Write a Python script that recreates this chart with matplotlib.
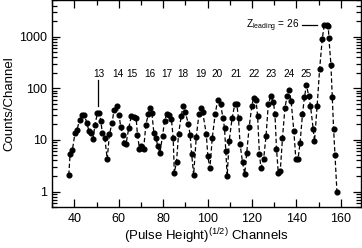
import numpy as np
import matplotlib
matplotlib.use("Agg")
import matplotlib.pyplot as plt
from matplotlib.ticker import LogLocator, MultipleLocator, NullFormatter

plt.rcParams["font.family"] = ["Liberation Sans", "DejaVu Sans"]
plt.rcParams["mathtext.fontset"] = "custom"
plt.rcParams["mathtext.rm"] = "Liberation Sans"
plt.rcParams["mathtext.it"] = "Liberation Sans:italic"

# channel / counts
chan = [37.5, 38.1, 39.1, 40.3, 41.2, 42.4, 43.6, 44.5, 45.7, 46.6, 47.4, 48.4,
        49.3, 50.4, 51.3, 51.9, 52.6, 53.7, 54.8, 55.8, 57.0, 57.9, 59.0, 60.1,
        60.9, 61.8, 62.4, 63.3, 64.5, 65.7, 66.7, 67.8, 68.4, 69.3, 69.9, 70.4,
        71.2, 72.2, 73.3, 74.0, 74.9, 75.8, 76.7, 77.6, 78.5, 79.7, 80.6, 81.6,
        82.7, 83.7, 84.5, 85.0, 86.0, 86.9, 88.1, 89.0, 89.9, 91.3, 92.1, 92.8,
        93.7, 94.9, 96.1, 97.0, 97.8, 99.4, 100.1, 101.0, 102.1, 103.4, 104.5,
        105.8, 106.9, 107.6, 108.2, 108.8, 109.7, 111.0, 112.2, 113.1, 113.9,
        114.6, 115.7, 116.7, 117.6, 118.7, 119.9, 120.7, 121.8, 122.5, 123.3,
        124.0, 125.2, 126.3, 127.3, 128.4, 129.6, 130.3, 131.0, 131.8, 132.7,
        133.7, 134.8, 135.8, 136.7, 137.6, 138.8, 139.7, 140.7, 141.6, 142.7,
        143.6, 144.5, 145.5, 146.3, 147.5, 148.1, 149.3, 150.4, 151.6, 152.5,
        153.7, 154.3, 154.6, 155.5, 156.1, 156.7, 157.3, 158.2]
counts = [2.1, 5.4, 6.3, 13.6, 15.8, 24.7, 31, 30, 21, 14.6, 13.5, 10.4,
          19.8, 33, 33, 23.5, 13.6, 10.9, 4.3, 12.8, 21.6, 38.7, 45, 31,
          17.5, 12.6, 8.8, 8.5, 17, 29.5, 28, 27, 12.7, 6.8, 7.5, 7.0,
          6.7, 19.8, 31.5, 42, 33, 13.6, 11, 7.5, 5.6, 11.9, 22.9, 32,
          30, 25, 10.9, 2.3, 3.8, 12.8, 28.7, 45.6, 35, 20.6, 12.6, 5.4,
          2.1, 11.6, 31.5, 42, 34, 12.8, 4.8, 2.8, 11, 31.5, 58.8,
          49, 27, 17, 6, 2.0, 9.5, 26, 48.5, 50.6, 26,
          8.3, 3.7, 2.2, 5.6, 17.8, 45.6, 65, 58.8, 28.4, 5.4,
          2.9, 4.2, 12, 48.5, 70, 54.5, 31.8, 6.8, 2.3, 2.5,
          11, 41.6, 72, 92, 56, 14.9, 4.3, 4.25, 8.7, 31.5,
          68, 115, 71, 46, 16.5, 9.4, 46, 232, 900, 1690,
          1690, 1620, 920, 286, 68, 16.5, 5.2, 1.0]

z_labels = ["13", "14", "15", "16", "17", "18", "19", "20", "21", "22", "23", "24", "25"]
z_pos = [51.0, 59.7, 66.0, 74.2, 81.6, 88.8, 97.0, 104.2, 112.7, 120.9, 128.7, 136.7, 144.3]

fig = plt.figure(figsize=(3.62, 2.48), dpi=100)
ax = fig.add_axes([0.144, 0.165, 0.853, 0.833])

ax.plot(chan, counts, "k--", lw=0.9, dashes=(3.5, 2))
ax.plot(chan, counts, "o", color="k", ms=3.4, mec="k")

ax.set_yscale("log")
ax.set_xlim(30, 169)
ax.set_ylim(0.5, 5000)
ax.set_xticks([40, 60, 80, 100, 120, 140, 160])
ax.xaxis.set_minor_locator(MultipleLocator(10))
ax.set_yticks([1, 10, 100, 1000])
ax.set_yticklabels(["1", "10", "100", "1000"])
ax.yaxis.set_minor_locator(LogLocator(base=10, subs=np.arange(2, 10)))
ax.yaxis.set_minor_formatter(NullFormatter())

ax.tick_params(which="both", direction="in", top=True, right=True,
               labelsize=9, width=0.9, colors="k")
ax.tick_params(which="major", length=6, pad=4)
ax.tick_params(which="minor", length=3.5)
for s in ax.spines.values():
    s.set_linewidth(1.0)

for lab, x in zip(z_labels, z_pos):
    ax.text(x, 188, lab, ha="center", va="center", fontsize=7.2)
ax.plot([50.7, 50.7], [45, 144], color="k", lw=0.9)

ax.text(141.3, 1600, r"$\mathrm{Z}_{\mathrm{leading}}$ = 26", ha="right", va="center",
        fontsize=7.2)
ax.plot([142.5, 149.3], [1640, 1640], color="k", lw=0.9)

ax.set_xlabel(r"(Pulse Height)$^{(1/2)}$ Channels", fontsize=9.5, labelpad=1)
ax.set_ylabel("Counts/Channel", fontsize=9.5, labelpad=2)

fig.savefig("out.png", dpi=100)
